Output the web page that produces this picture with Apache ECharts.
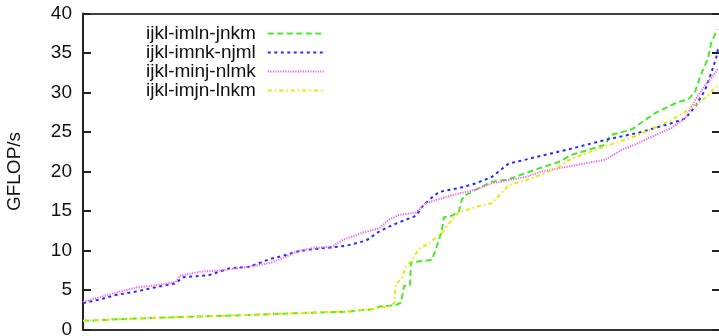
<!DOCTYPE html>
<html><head><meta charset="utf-8">
<script src="https://cdn.jsdelivr.net/npm/echarts@6/dist/echarts.min.js"></script>
<style>html,body{margin:0;padding:0;background:#fff}#c{width:719px;height:336px}</style>
</head><body><div id="c"></div>
<script>
const seriesNames = ['ijkl-imln-jnkm', 'ijkl-imnk-njml', 'ijkl-minj-nlmk', 'ijkl-imjn-lnkm'];
const yTicks = [0, 5, 10, 15, 20, 25, 30, 35, 40];

const greenX = [0, 37, 77, 117, 157, 200, 230, 264, 290, 297, 314, 319, 321, 322, 328, 329, 331, 350, 357, 360, 362, 370, 377, 380, 382, 394, 410, 427, 444, 460, 477, 490, 524, 529, 550, 574, 597, 607, 614, 620, 627, 630, 636];
const greenY = [1.1, 1.3, 1.5, 1.65, 1.8, 2.0, 2.13, 2.25, 2.55, 2.9, 3.1, 3.4, 3.5, 5.5, 5.6, 8.5, 8.7, 8.8, 11.3, 12.6, 14.2, 14.4, 14.9, 16.4, 16.9, 17.7, 18.7, 19.0, 19.8, 20.5, 21.2, 22.1, 23.4, 24.6, 25.3, 27.4, 28.8, 29.1, 30.1, 32.3, 34.3, 36.2, 38.0];

const blueX = [0, 17, 33, 53, 73, 93, 100, 127, 147, 167, 187, 200, 214, 230, 250, 264, 284, 297, 310, 324, 334, 340, 347, 357, 377, 394, 410, 417, 427, 444, 460, 490, 524, 557, 590, 604, 614, 624, 630, 635, 637];
const blueY = [3.35, 3.8, 4.37, 4.8, 5.35, 5.85, 6.6, 6.9, 7.75, 7.95, 8.9, 9.3, 9.85, 10.15, 10.4, 10.6, 11.25, 12.4, 13.2, 13.9, 14.4, 15.5, 16.4, 17.4, 17.9, 18.5, 19.3, 20.0, 21.0, 21.5, 22.0, 22.9, 24.0, 24.9, 26.1, 26.7, 28.2, 30.3, 32.4, 34.3, 35.5];

const magentaX = [0, 17, 33, 53, 73, 93, 97, 117, 140, 167, 187, 200, 214, 230, 250, 260, 280, 297, 307, 317, 334, 344, 360, 377, 394, 410, 427, 444, 460, 477, 490, 524, 540, 557, 574, 590, 604, 614, 624, 634, 637];
const magentaY = [3.5, 4.1, 4.66, 5.3, 5.6, 6.0, 6.8, 7.3, 7.5, 7.95, 8.4, 9.0, 9.85, 10.3, 10.5, 11.3, 12.25, 12.8, 13.9, 14.5, 14.8, 16.0, 16.6, 17.2, 17.7, 18.5, 18.9, 19.3, 20.0, 20.4, 20.7, 21.5, 22.7, 23.6, 24.6, 25.5, 26.7, 29.0, 30.9, 32.4, 33.0];

const yellowX = [0, 37, 77, 117, 157, 200, 230, 264, 290, 300, 307, 312, 314, 319, 324, 330, 337, 347, 360, 370, 377, 394, 410, 420, 427, 444, 460, 477, 490, 524, 557, 590, 607, 624, 634, 637];
const yellowY = [1.1, 1.3, 1.5, 1.65, 1.8, 2.0, 2.15, 2.3, 2.6, 2.8, 2.9, 3.3, 5.85, 6.3, 7.95, 8.8, 10.2, 10.9, 12.2, 13.9, 14.8, 15.5, 16.0, 17.3, 18.3, 18.9, 19.6, 20.6, 21.6, 23.2, 24.6, 26.5, 27.8, 29.3, 30.5, 31.0];

const colors = ['#4ae82a', '#2a2aff', '#f060f0', '#e8e800'];
const dashes = [[6, 3.5], [3, 3.5], [1.2, 1.3], [4, 3, 1.5, 3]];
const xs = [greenX, blueX, magentaX, yellowX];
const ys = [greenY, blueY, magentaY, yellowY];

function zip(a, b) { return a.map((v, i) => [v, b[i]]); }

const font = 'Liberation Sans, Arial, Helvetica, sans-serif';
const chart = echarts.init(document.getElementById('c'), null, {renderer: 'canvas'});
chart.setOption({
  animation: false,
  backgroundColor: '#fff',
  grid: {left: 83, right: 0, top: 13.5, bottom: 6.5, containLabel: false, outerBoundsMode: 'none'},
  legend: {
    orient: 'vertical', align: 'right', left: 146, top: 24, padding: 0, itemGap: 0,
    itemWidth: 56, itemHeight: 19,
    itemStyle: {opacity: 0, color: 'transparent', borderWidth: 0},
    textStyle: {fontSize: 19, color: '#111', fontFamily: font, lineHeight: 19, padding: [0, 7, 0, 0]},
    data: seriesNames
  },
  xAxis: [
    {type: 'value', min: 0, max: 638, position: 'bottom',
     axisLine: {show: true, onZero: false, lineStyle: {color: '#333', width: 2}},
     axisTick: {show: false}, axisLabel: {show: false}, splitLine: {show: false}},
    {type: 'value', min: 0, max: 638, position: 'top',
     axisLine: {show: true, onZero: false, lineStyle: {color: '#444', width: 2}},
     axisTick: {show: false}, axisLabel: {show: false}, splitLine: {show: false}}
  ],
  yAxis: [
    {type: 'value', min: 0, max: 40, interval: 5, position: 'left',
     name: 'GFLOP/s', nameLocation: 'middle', nameGap: 59,
     nameTextStyle: {fontSize: 19, color: '#111', fontFamily: font},
     axisLine: {show: true, onZero: false, lineStyle: {color: '#222', width: 2}},
     axisTick: {show: true, inside: true, length: 8, lineStyle: {color: '#222', width: 2}},
     axisLabel: {show: true, margin: 11, fontSize: 19, color: '#111', fontFamily: font,
                 formatter: v => yTicks.includes(v) ? String(v) : ''},
     splitLine: {show: false}},
    {type: 'value', min: 0, max: 40, interval: 5, position: 'left', offset: -636,
     axisLine: {show: true, onZero: false, lineStyle: {color: 'rgba(0,0,0,0)', width: 1}},
     axisTick: {show: true, inside: false, length: 7, lineStyle: {color: '#222', width: 2}},
     axisLabel: {show: true, formatter: () => ''}, splitLine: {show: false}}
  ],
  series: seriesNames.map((n, i) => ({
    name: n, type: 'line', xAxisIndex: i < 2 ? 0 : 1, yAxisIndex: 0,
    data: zip(xs[i], ys[i]), symbol: 'none', smooth: false,
    lineStyle: {color: colors[i], width: 2, type: dashes[i]},
    itemStyle: {color: colors[i]},
    z: 2 + i
  }))
});
</script></body></html>
